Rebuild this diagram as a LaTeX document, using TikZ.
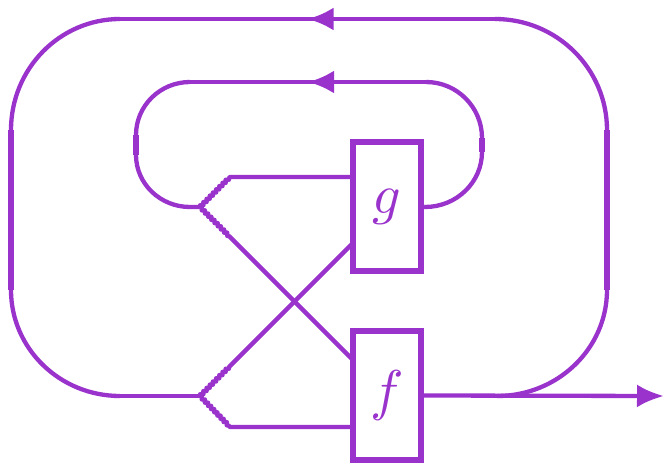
\documentclass[tikz,border=0pt]{standalone}
\usepackage{graphicx}
\usetikzlibrary{arrows.meta,decorations.pathmorphing,decorations.markings}
\definecolor{pur}{HTML}{9933CC}
\begin{document}
\begin{tikzpicture}[x=1pt,y=1pt,
  wire/.style={draw=pur,line width=4.3pt},
  sidewire/.style={draw=pur,line width=5.2pt},
  boxnode/.style={draw=pur,line width=5.5pt,rectangle,inner sep=0pt,minimum width=68pt,minimum height=129pt,text=pur},
  jag/.style={decoration={snake,amplitude=1.2pt,segment length=4.5pt}},
  midarrow/.style={postaction={decorate,decoration={markings,mark=at position #1 with {\arrow{Latex[length=26pt,width=23pt]}}}}}
]
\useasboundingbox (0,0) rectangle (664,464);
% boxes
\node[boxnode] (g) at (387,257.5) {\scalebox{5.6}{$g$}};
\node[boxnode] (f) at (387,68.5) {\scalebox{5.6}{$f$}};
% coordinates
\coordinate (s1) at (200,257);
\coordinate (a1) at (230,287);
\coordinate (b1) at (230,227);
\coordinate (c1) at (353,104);
\coordinate (s2) at (200,68);
\coordinate (a2) at (230,98);
\coordinate (b2) at (230,37);
\coordinate (c2) at (353,221);
\coordinate (out) at (664,68);
% outer loop
\coordinate (otl) at (120,445);
\coordinate (otr) at (495,445);
\coordinate (obr) at (497,68);
\coordinate (obl) at (120,68);
\coordinate (ol1) at (11,334);
\coordinate (ol2) at (11,174);
\coordinate (or1) at (607,174);
\coordinate (or2) at (607,334);
% inner loop
\coordinate (itl) at (190,382);
\coordinate (itr) at (426,382);
\coordinate (il1) at (136,329);
\coordinate (il2) at (136,309);
\coordinate (ibl) at (190,257);
\coordinate (ibr) at (425,257);
\coordinate (ir1) at (482,312);
\coordinate (ir2) at (482,326);

% output
\draw[wire,-{Latex[length=27pt,width=23pt]}] (f.east) -- (out);
% outer loop
\draw[wire] (obr) arc[start angle=270,end angle=360,x radius=110,y radius=106];
\draw[sidewire] (or1) -- (or2);
\draw[wire] (or2) arc[start angle=0,end angle=90,x radius=112,y radius=111];
\draw[wire,midarrow=0.5] (otr) -- (otl);
\draw[wire] (otl) arc[start angle=90,end angle=180,x radius=109,y radius=111];
\draw[sidewire] (ol1) -- (ol2);
\draw[wire] (ol2) arc[start angle=180,end angle=270,x radius=109,y radius=106];
\draw[wire] (obl) -- (s2);
% inner loop
\draw[wire] (g.east) -- (ibr) arc[start angle=270,end angle=360,x radius=57,y radius=55];
\draw[sidewire] (ir1) -- (ir2);
\draw[wire] (ir2) arc[start angle=0,end angle=90,x radius=56,y radius=56];
\draw[wire,midarrow=0.5] (itr) -- (itl);
\draw[wire] (itl) arc[start angle=90,end angle=180,x radius=54,y radius=53];
\draw[sidewire] (il1) -- (il2);
\draw[wire] (il2) arc[start angle=180,end angle=270,x radius=54,y radius=52] -- (s1);
% splitters
\draw[wire,line join=round] (s1) decorate[jag]{-- (a1)} -- (a1 -| g.west);
\draw[wire,line join=round] (s1) decorate[jag]{-- (b1)} -- (c1);
\draw[wire,line join=round] (s2) decorate[jag]{-- (a2)} -- (c2);
\draw[wire,line join=round] (s2) decorate[jag]{-- (b2)} -- (b2 -| f.west);
\end{tikzpicture}
\end{document}
